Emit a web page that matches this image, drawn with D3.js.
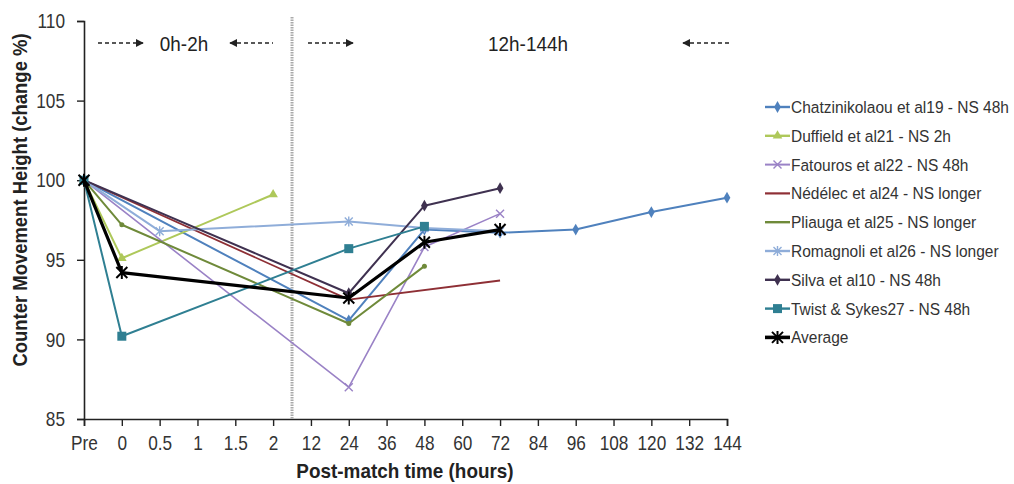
<!DOCTYPE html>
<html>
<head>
<meta charset="utf-8">
<script src="https://cdn.jsdelivr.net/npm/d3@7"></script>
<style>
  body { margin: 0; background: #fff; }
  svg { font-family: "Liberation Sans", Arial, sans-serif; }
</style>
</head>
<body>
<svg id="chart" width="1014" height="484"></svg>
<script>
// categories on the x axis (hours after match)
var categories = ["Pre", "0", "0.5", "1", "1.5", "2", "12", "24", "36", "48", "60", "72", "84", "96", "108", "120", "132", "144"];
var yTicks = [85, 90, 95, 100, 105, 110];

var seriesNames = [
  "Chatzinikolaou et al19 - NS 48h",
  "Duffield et al21 - NS 2h",
  "Fatouros et al22 - NS 48h",
  "Nédélec et al24 - NS longer",
  "Pliauga et al25 - NS longer",
  "Romagnoli et al26 - NS longer",
  "Silva et al10 - NS 48h",
  "Twist & Sykes27 - NS 48h",
  "Average"
];

var chatzinikolaou = [["Pre", 100], ["24", 91.2], ["48", 96.9], ["72", 96.7], ["96", 96.9], ["120", 98.0], ["144", 98.9]];
var duffield = [["Pre", 100], ["0", 95.1], ["2", 99.1]];
var fatouros = [["Pre", 100], ["24", 87.0], ["48", 95.8], ["72", 97.9]];
var nedelec = [["Pre", 100], ["24", 92.5], ["72", 93.7]];
var pliauga = [["Pre", 100], ["0", 97.2], ["24", 91.0], ["48", 94.6]];
var romagnoli = [["Pre", 100], ["0.5", 96.8], ["24", 97.4], ["48", 97.0], ["72", 96.8]];
var silva = [["Pre", 100], ["24", 92.9], ["48", 98.4], ["72", 99.5]];
var twist = [["Pre", 100], ["0", 90.2], ["24", 95.7], ["48", 97.1]];
var average = [["Pre", 100], ["0", 94.2], ["24", 92.6], ["48", 96.1], ["72", 96.9]];

var allSeries = [chatzinikolaou, duffield, fatouros, nedelec, pliauga, romagnoli, silva, twist, average];

// styling per series
var colors = ["#4f81bd", "#aec85a", "#9a82c6", "#8e2f35", "#6f8a3a", "#8fadd9", "#3f3150", "#2f7f92", "#000000"];
var markers = ["diamond", "triangle", "x", "none", "dot", "star", "diamond", "square", "star"];
var widths = [2, 2, 1.6, 1.8, 2, 2, 2, 2, 3.2];

var svg = d3.select("#chart");
var narrow = 0.82; // the original text is tall and narrow

var x = d3.scalePoint().domain(categories).range([84, 727]);
var y = d3.scaleLinear().domain([85, 110]).range([419, 21]);

// y axis
var yAxis = d3.axisLeft(y).tickValues(yTicks).tickSize(7);
var gy = svg.append("g").attr("transform", "translate(84,0)").call(yAxis);
gy.select(".domain").attr("stroke", "#222").attr("stroke-width", 1.6);
gy.selectAll(".tick line").attr("stroke", "#222").attr("stroke-width", 1.4);
gy.selectAll(".tick text").attr("fill", "#333").style("font-size", "21px")
  .attr("x", -19 / narrow).attr("transform", "scale(" + narrow + ",1)");

// x axis
var xAxis = d3.axisBottom(x).tickSize(7).tickPadding(9);
var gx = svg.append("g").attr("transform", "translate(0,419)").call(xAxis);
gx.select(".domain").attr("stroke", "#222").attr("stroke-width", 1.6);
gx.selectAll(".tick line").attr("stroke", "#222").attr("stroke-width", 1.4);
gx.selectAll(".tick text").attr("fill", "#333").style("font-size", "21px")
  .attr("transform", "scale(" + narrow + ",1)");

// divider between 2h and 12h
var midX = (x("2") + x("12")) / 2;
svg.append("line")
  .attr("x1", midX).attr("x2", midX)
  .attr("y1", 17).attr("y2", 419)
  .attr("stroke", "#aaa").attr("stroke-width", 3)
  .attr("stroke-dasharray", "1.5,1");

// axis titles
svg.append("text")
  .attr("transform", "translate(27,200) rotate(-90) scale(0.9,1)")
  .attr("text-anchor", "middle")
  .style("font-size", "20.5px").style("font-weight", "bold").attr("fill", "#222")
  .text("Counter Movement Height (change %)");

svg.append("text")
  .attr("transform", "translate(405,478) scale(0.9,1)")
  .attr("text-anchor", "middle")
  .style("font-size", "21px").style("font-weight", "bold").attr("fill", "#222")
  .text("Post-match time (hours)");

// period annotations
var defs = svg.append("defs");
defs.append("marker").attr("id", "arr")
  .attr("viewBox", "0 0 10 10").attr("refX", 9).attr("refY", 5)
  .attr("markerWidth", 5).attr("markerHeight", 5).attr("orient", "auto-start-reverse")
  .append("path").attr("d", "M0,0L10,5L0,10Z").attr("fill", "#222");

var arrows = [[98, 143, false], [230, 273, true], [308, 353, false], [683, 731, true]];
arrows.forEach(function(a) {
  var ln = svg.append("line")
    .attr("x1", a[0]).attr("x2", a[1]).attr("y1", 43).attr("y2", 43)
    .attr("stroke", "#222").attr("stroke-width", 1.6).attr("stroke-dasharray", "4,3");
  if (a[2]) ln.attr("marker-start", "url(#arr)"); else ln.attr("marker-end", "url(#arr)");
});
svg.append("text").attr("transform", "translate(184,51) scale(0.9,1)").attr("text-anchor", "middle")
  .style("font-size", "21px").attr("fill", "#222").text("0h-2h");
svg.append("text").attr("transform", "translate(528,51) scale(0.9,1)").attr("text-anchor", "middle")
  .style("font-size", "21px").attr("fill", "#222").text("12h-144h");

// markers
function drawMarker(g, type, cx, cy, col, big) {
  var s = big ? 5.5 : 4;
  if (type == "diamond") {
    g.append("path").attr("d", d3.symbol(d3.symbolDiamond, 40)())
      .attr("transform", "translate(" + cx + "," + cy + ")").attr("fill", col);
  } else if (type == "triangle") {
    g.append("path").attr("d", d3.symbol(d3.symbolTriangle, 40)())
      .attr("transform", "translate(" + cx + "," + cy + ")").attr("fill", col);
  } else if (type == "square") {
    g.append("rect").attr("x", cx - 4.5).attr("y", cy - 4.5).attr("width", 9).attr("height", 9).attr("fill", col);
  } else if (type == "dot") {
    g.append("circle").attr("cx", cx).attr("cy", cy).attr("r", 2.5).attr("fill", col);
  } else if (type == "x" || type == "star") {
    var d = "M" + (cx - s) + "," + (cy - s) + "L" + (cx + s) + "," + (cy + s) +
            "M" + (cx - s) + "," + (cy + s) + "L" + (cx + s) + "," + (cy - s);
    if (type == "star") d += "M" + cx + "," + (cy - s - 1) + "L" + cx + "," + (cy + s + 1);
    g.append("path").attr("d", d).attr("stroke", col).attr("fill", "none")
      .attr("stroke-width", big ? 2 : 1.4);
  }
}

var line = d3.line().x(function(d) { return x(d[0]); }).y(function(d) { return y(d[1]); });

allSeries.forEach(function(data, i) {
  var g = svg.append("g");
  g.append("path").attr("d", line(data))
    .attr("fill", "none").attr("stroke", colors[i]).attr("stroke-width", widths[i])
    .attr("stroke-linejoin", "round");
  data.forEach(function(d) {
    drawMarker(g, markers[i], x(d[0]), y(d[1]), colors[i], i == 8);
  });
});

// legend
var legend = svg.append("g");
seriesNames.forEach(function(name, i) {
  var ly = 107 + i * 28.8;
  legend.append("line").attr("x1", 765).attr("x2", 790).attr("y1", ly).attr("y2", ly)
    .attr("stroke", colors[i]).attr("stroke-width", widths[i] + 0.4);
  if (markers[i] != "dot") drawMarker(legend, markers[i], 777.5, ly, colors[i], i == 8);
  legend.append("text").attr("transform", "translate(791," + (ly + 6) + ") scale(0.94,1)")
    .style("font-size", "16.5px").attr("fill", "#333").text(name);
});
</script>
</body>
</html>
